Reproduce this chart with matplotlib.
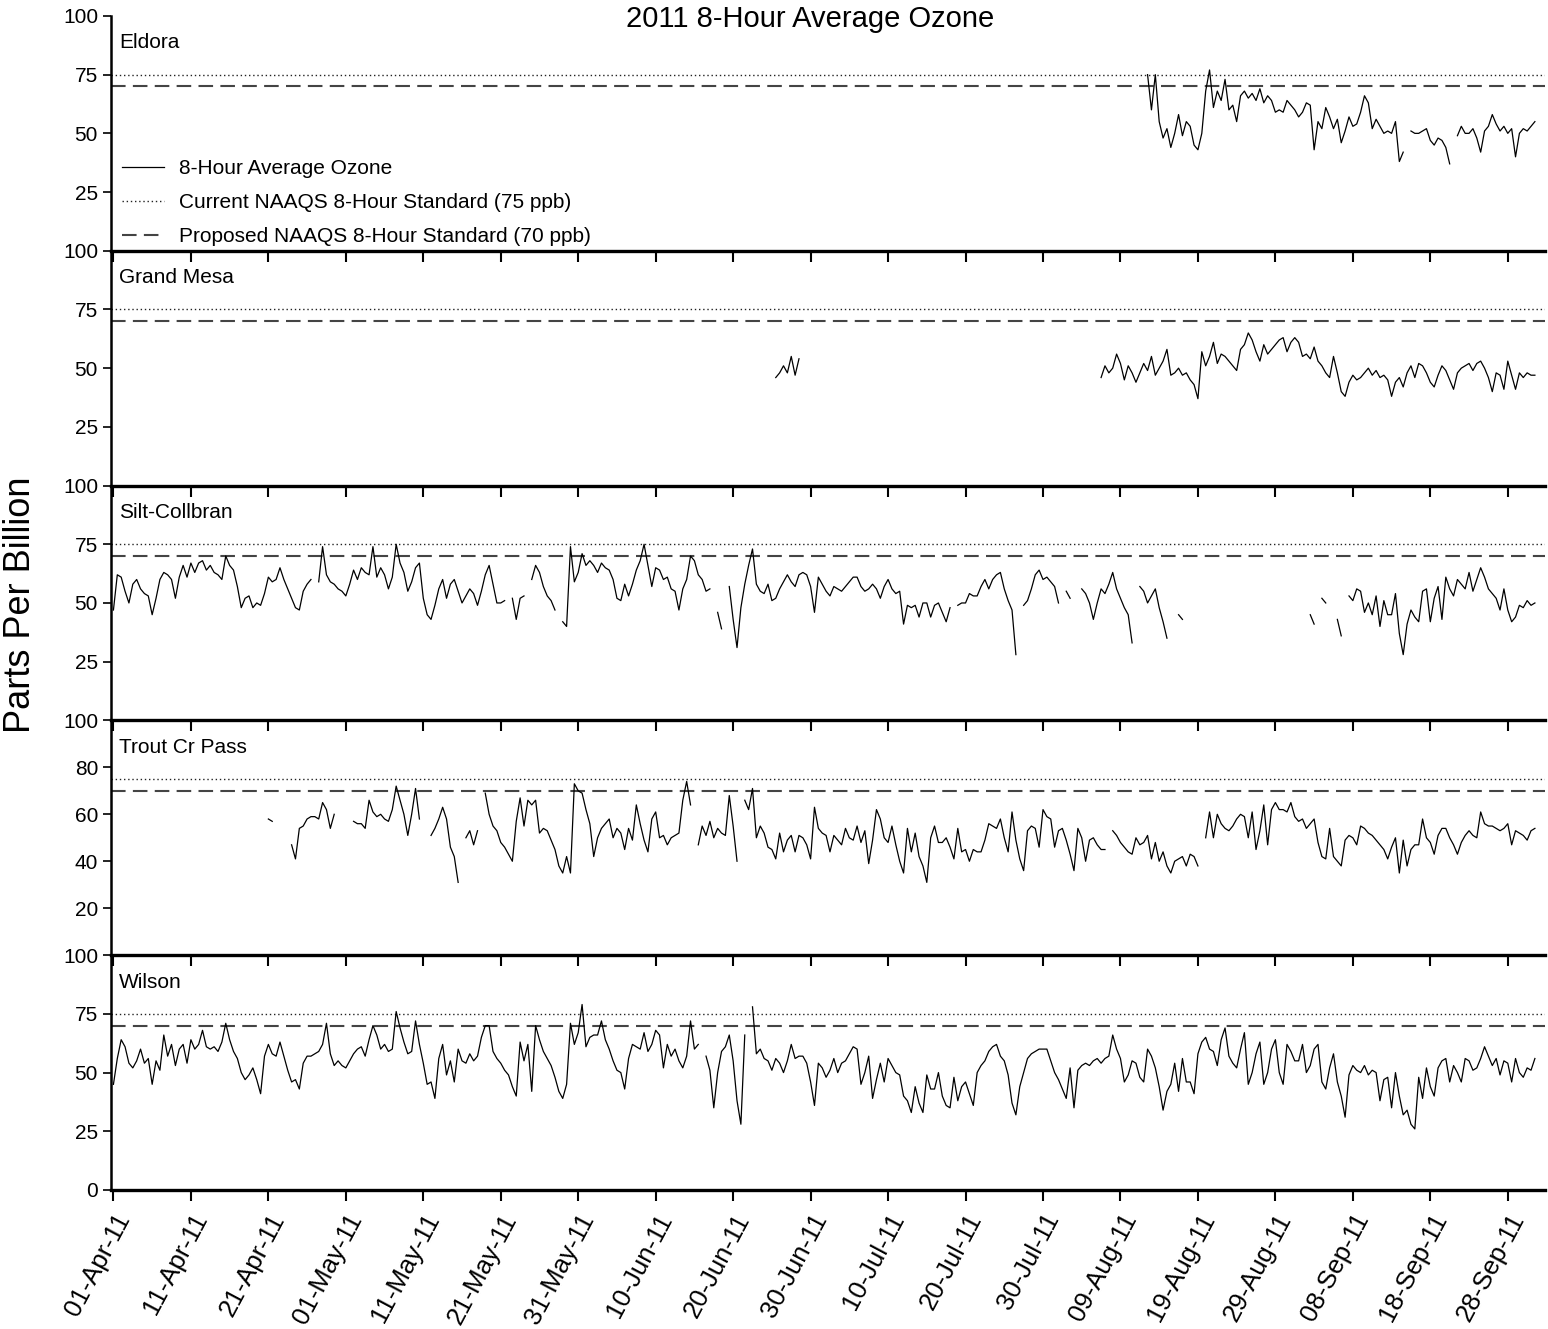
import numpy as np
import matplotlib
matplotlib.use('Agg')
import matplotlib.pyplot as plt
import matplotlib.dates as mdates
from matplotlib.lines import Line2D

plt.rcParams['font.family'] = ['Liberation Sans', 'DejaVu Sans']

# 8-hour average ozone (ppb), one value every 12 hours from each start time
# None marks missing hours
eldora_start = '2011-08-12T12:00'
eldora = [
    75, 60, 75,
    55, 48, 52, 44, 50, 58, 49, 55, 53, 45,
    43, 50, 68, 77, 61, 68, 64, 73, 60, 62,
    55, 66, 68, 65, 67, 64, 69, 63, 66, 64,
    59, 60, 59, 64, 62, 60, 57, 59, 63, 62,
    43, 55, 52, 61, 57, 52, 56, 46, 51, 57,
    53, 54, 59, 66, 63, 52, 56, 53, 50, 51,
    50, 55, 38, 42, None, 51, 50, 50, 51, 52,
    47, 45, 48, 47, 44, 37, None, 49, 53, 50,
    50, 52, 48, 42, 51, 53, 58, 54, 51, 53,
    50, 52, 40, 50, 52, 51, 53, 55,
]

grand_mesa_start1 = '2011-06-25T12:00'
grand_mesa1 = [46, 48, 51, 48, 55, 47, 54]

grand_mesa_start2 = '2011-08-06T12:00'
grand_mesa2 = [
    46, 51, 48, 50, 56,
    52, 45, 51, 48, 44, 48, 52, 49, 55, 47,
    50, 53, 58, 47, 48, 50, 47, 48, 45, 43,
    37, 57, 51, 55, 61, 52, 56, 55, 53, 51,
    49, 58, 60, 65, 62, 57, 53, 60, 56, 58,
    60, 62, 63, 57, 61, 63, 61, 55, 56, 54,
    59, 53, 51, 48, 46, 55, 48, 40, 38, 44,
    47, 45, 46, 48, 50, 47, 49, 46, 47, 45,
    38, 44, 46, 42, 48, 51, 46, 52, 51, 48,
    44, 42, 47, 51, 49, 45, 41, 48, 50, 51,
    52, 49, 52, 53, 50, 46, 40, 48, 47, 41,
    53, 47, 41, 48, 46, 48, 47, 47,
]

silt_start = '2011-04-01T00:00'
silt = [
    47, 62, 61, 55, 50, 58, 60, 56, 54, 53,
    45, 52, 60, 63, 62, 60, 52, 61, 66, 61,
    67, 63, 67, 68, 64, 66, 63, 62, 60, 70,
    66, 64, 57, 48, 52, 53, 48, 50, 49, 54,
    61, 59, 60, 65, 60, 56, 52, 48, 47, 55,
    58, 60, None, 59, 74, 62, 59, 58, 56, 55,
    53, 58, 64, 60, 65, 63, 62, 74, 61, 65,
    62, 56, 61, 75, 67, 63, 55, 59, 65, 67,
    52, 45, 43, 49, 56, 60, 52, 58, 60, 55,
    50, 53, 56, 54, 49, 55, 62, 66, 58, 50,
    50, 51, None, 52, 43, 52, 53, None, 60, 66,
    63, 57, 53, 51, 47, None, 42, 40, 74, 59,
    63, 71, 66, 68, 66, 63, 67, 65, 64, 60,
    52, 51, 58, 53, 58, 64, 68, 75, 66, 57,
    65, 64, 60, 61, 56, 55, 47, 56, 60, 70,
    68, 62, 60, 55, 56, None, 46, 39, None, 57,
    43, 31, 48, 58, 66, 73, 58, 55, 54, 58,
    51, 52, 56, 59, 62, 59, 57, 62, 63, 62,
    57, 46, 61, 58, 55, 53, 57, 56, 55, 57,
    59, 61, 61, 57, 55, 56, 58, 56, 52, 57,
    60, 56, 54, 55, 41, 49, 48, 49, 44, 50,
    50, 44, 49, 50, 46, 42, 48, None, 49, 50,
    50, 54, 53, 53, 57, 60, 56, 60, 62, 63,
    56, 51, 47, 28, None, 49, 51, 56, 62, 64,
    60, 61, 59, 57, 50, None, 55, 52, None, None,
    56, 54, 50, 43, 50, 56, 54, 58, 63, 56,
    52, 48, 45, 33, None, 57, 55, 50, 53, 56,
    48, 42, 35, None, None, 45, 43, None, None, None,
    None, None, None, None, None, None, None, None, None, None,
    None, None, None, None, None, None, None, None, None, None,
    None, None, None, None, None, None, None, None, None, 45,
    41, None, 52, 50, None, None, 43, 36, None, 53,
    51, 56, 55, 46, 50, 45, 53, 40, 51, 45,
    45, 54, 37, 28, 41, 47, 44, 42, 55, 56,
    42, 52, 57, 43, 61, 56, 53, 60, 58, 56,
    63, 55, 60, 65, 61, 56, 54, 52, 47, 56,
    47, 42, 44, 49, 48, 51, 49, 50,
]

trout_start = '2011-04-21T00:00'
trout = [
    58, 57, None, None, None, None, 47, 41, 54, 55,
    58, 59, 59, 58, 65, 62, 54, 60, None, None,
    None, None, 57, 56, 56, 54, 66, 61, 59, 60,
    58, 57, 62, 72, 66, 60, 51, 60, 71, 58,
    None, None, 51, 54, 58, 63, 58, 46, 42, 31,
    None, 50, 53, 47, 53, None, 69, 60, 55, 53,
    48, 46, 43, 40, 57, 67, 55, 66, 64, 66,
    52, 54, 53, 49, 45, 38, 35, 42, 35, 73,
    70, 69, 62, 56, 42, 50, 54, 56, 58, 50,
    54, 52, 45, 54, 49, 64, 56, 49, 44, 58,
    61, 50, 51, 47, 50, 51, 52, 66, 74, 64,
    None, 47, 55, 51, 57, 50, 54, 52, 51, 68,
    55, 40, None, 66, 62, 71, 50, 55, 52, 46,
    45, 41, 52, 44, 49, 51, 44, 51, 50, 47,
    41, 63, 54, 52, 51, 44, 51, 49, 47, 54,
    50, 49, 55, 48, 53, 39, 49, 62, 58, 50,
    48, 55, 47, 40, 35, 54, 44, 52, 42, 38,
    31, 50, 55, 48, 48, 50, 46, 41, 54, 44,
    45, 40, 45, 44, 44, 49, 56, 55, 54, 58,
    50, 44, 61, 49, 41, 36, 53, 55, 54, 46,
    62, 59, 58, 46, 53, 54, 49, 43, 36, 54,
    50, 40, 49, 50, 47, 45, 45, None, 53, 51,
    48, 46, 44, 43, 50, 47, 48, 51, 41, 48,
    40, 44, 38, 35, 40, 41, 42, 38, 43, 42,
    38, None, 50, 61, 50, 60, 56, 54, 53, 55,
    58, 60, 59, 50, 61, 45, 53, 64, 47, 62,
    65, 62, 62, 61, 65, 59, 57, 58, 54, 56,
    58, 48, 42, 41, 54, 42, 40, 38, 49, 51,
    50, 47, 55, 54, 52, 51, 49, 47, 45, 41,
    46, 50, 35, 49, 38, 45, 47, 47, 58, 50,
    48, 43, 51, 54, 54, 50, 47, 43, 48, 51,
    53, 51, 50, 61, 56, 55, 55, 54, 53, 54,
    56, 47, 53, 52, 51, 49, 53, 54,
]

wilson_start = '2011-04-01T00:00'
wilson = [
    45, 56, 64, 61, 54, 52, 55, 60, 54, 56,
    45, 55, 51, 66, 57, 62, 53, 60, 62, 54,
    64, 60, 62, 68, 61, 60, 61, 59, 63, 71,
    64, 59, 56, 50, 47, 49, 52, 47, 41, 57,
    62, 58, 57, 63, 57, 51, 46, 47, 43, 54,
    57, 57, 58, 59, 62, 71, 58, 53, 55, 53,
    52, 55, 58, 60, 61, 57, 64, 70, 66, 60,
    62, 59, 60, 76, 69, 63, 58, 59, 72, 62,
    54, 45, 46, 39, 56, 62, 49, 55, 46, 60,
    55, 54, 58, 55, 57, 65, 70, 70, 59, 56,
    54, 51, 49, 44, 40, 63, 55, 62, 42, 70,
    64, 59, 56, 53, 48, 42, 39, 45, 71, 62,
    67, 79, 61, 65, 66, 66, 72, 64, 60, 55,
    51, 50, 43, 56, 62, 61, 60, 67, 59, 62,
    68, 66, 52, 62, 57, 60, 55, 52, 57, 72,
    60, 62, None, 57, 51, 35, 50, 59, 61, 66,
    55, 38, 28, 66, None, 78, 58, 60, 56, 55,
    51, 56, 54, 50, 55, 62, 56, 57, 57, 54,
    46, 36, 54, 52, 48, 51, 56, 50, 54, 55,
    58, 61, 60, 45, 50, 57, 39, 47, 54, 46,
    56, 53, 50, 49, 40, 38, 33, 44, 37, 33,
    49, 43, 43, 50, 40, 36, 35, 48, 38, 44,
    46, 41, 36, 50, 53, 55, 59, 61, 62, 57,
    55, 49, 37, 32, 44, 50, 56, 58, 59, 60,
    60, 60, 55, 50, 47, 43, 39, 52, 35, 51,
    53, 54, 53, 55, 56, 54, 56, 57, 66, 60,
    56, 46, 49, 55, 54, 48, 46, 60, 57, 52,
    44, 34, 42, 45, 54, 42, 56, 46, 46, 41,
    58, 63, 65, 60, 59, 53, 64, 69, 57, 54,
    52, 60, 67, 45, 50, 58, 63, 45, 50, 60,
    64, 50, 45, 62, 59, 55, 55, 62, 50, 53,
    60, 62, 46, 43, 52, 58, 46, 40, 31, 49,
    53, 51, 50, 53, 49, 51, 50, 38, 47, 48,
    35, 50, 40, 32, 34, 28, 26, 48, 39, 52,
    44, 40, 52, 55, 56, 46, 53, 50, 46, 56,
    55, 51, 52, 56, 61, 57, 53, 56, 49, 55,
    54, 46, 56, 50, 48, 52, 51, 56,
]

current_std = 75
proposed_std = 70

stations = [
    ('Eldora', [(eldora_start, eldora)]),
    ('Grand Mesa', [(grand_mesa_start1, grand_mesa1), (grand_mesa_start2, grand_mesa2)]),
    ('Silt-Collbran', [(silt_start, silt)]),
    ('Trout Cr Pass', [(trout_start, trout)]),
    ('Wilson', [(wilson_start, wilson)]),
]

step = np.timedelta64(12, 'h')


def times(start, n):
    return np.datetime64(start) + step * np.arange(n)


fig, axes = plt.subplots(5, 1, figsize=(15.48, 13.29), dpi=100, sharex=True,
                         gridspec_kw=dict(hspace=0))
fig.subplots_adjust(left=0.0714, right=0.998, top=0.988, bottom=0.1046)

for i, (ax, (name, segments)) in enumerate(zip(axes, stations)):
    ax.set_facecolor('none')
    for start, vals in segments:
        y = np.array(vals, dtype=float)
        ax.plot(times(start, len(y)), y, color='black', lw=0.9, zorder=3)
    ax.axhline(current_std, color='#222222', lw=1.0, ls=(0, (1, 2)), zorder=2)
    ax.axhline(proposed_std, color='#444444', lw=1.5, ls=(0, (7, 3.5)), zorder=2)

    ax.set_ylim(0, 100)
    if name == 'Trout Cr Pass':
        ax.set_yticks([20, 40, 60, 80, 100])
    elif i == len(stations) - 1:
        ax.set_yticks([0, 25, 50, 75, 100])
    else:
        ax.set_yticks([25, 50, 75, 100])

    ax.text(0.006, 0.885, name, transform=ax.transAxes, fontsize=15,
            ha='left', va='center')

    for side in ('top', 'right'):
        ax.spines[side].set_visible(False)
    ax.spines['left'].set_linewidth(1.8)
    ax.spines['bottom'].set_linewidth(2.4)
    ax.tick_params(axis='y', direction='out', length=6, width=1.2,
                   labelsize=15, pad=3)
    ax.tick_params(axis='x', direction='out', length=8, width=1.5)

# x axis: every 10 days from 1 April
ticks = np.arange(np.datetime64('2011-04-01'), np.datetime64('2011-10-01'),
                  np.timedelta64(10, 'D'))
axes[-1].set_xticks(ticks)
axes[-1].xaxis.set_major_formatter(mdates.DateFormatter('%d-%b-%y'))
axes[-1].set_xlim(np.datetime64('2011-03-31T15:00'), np.datetime64('2011-10-02T19:00'))
for lab in axes[-1].get_xticklabels():
    lab.set_rotation(62)
    lab.set_ha('right')
    lab.set_rotation_mode('anchor')
    lab.set_fontsize(18.5)
axes[-1].tick_params(axis='x', pad=6)

handles = [
    Line2D([], [], color='black', lw=0.9),
    Line2D([], [], color='#222222', lw=1.0, ls=(0, (1, 2))),
    Line2D([], [], color='#444444', lw=1.5, ls=(0, (7, 3.5))),
]
labels = ['8-Hour Average Ozone',
          'Current NAAQS 8-Hour Standard (75 ppb)',
          'Proposed NAAQS 8-Hour Standard (70 ppb)']
axes[0].legend(handles, labels, loc='lower left', bbox_to_anchor=(0.008, 0.02),
               frameon=False, fontsize=15, handlelength=2.0, handletextpad=0.75,
               labelspacing=0.72, borderpad=0, borderaxespad=0)

fig.text(810 / 1548, 1 - 19 / 1329, '2011 8-Hour Average Ozone',
         ha='center', va='center', fontsize=21)
fig.text(21 / 1548, 1 - 605 / 1329, 'Parts Per Billion', rotation=90,
         ha='center', va='center', fontsize=26)

fig.savefig('out.png', dpi=100)
